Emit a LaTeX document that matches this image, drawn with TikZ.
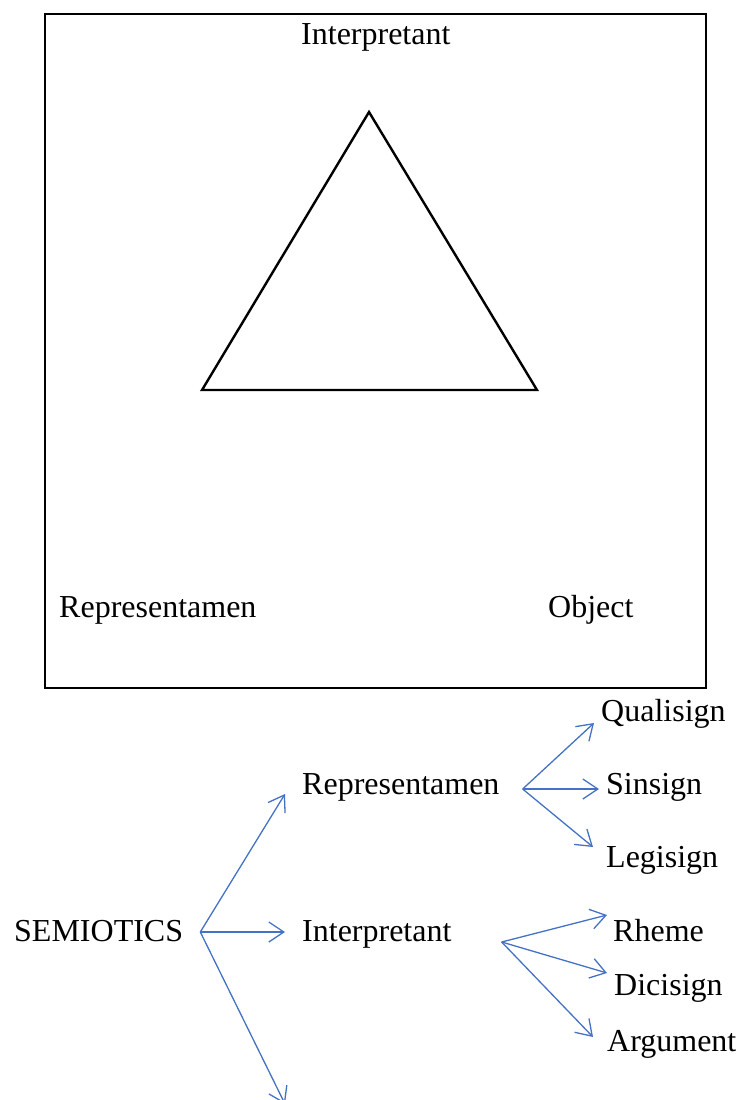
\documentclass[tikz,border=0pt]{standalone}
\usepackage{fontspec}
\setmainfont{Liberation Serif}
\usepackage{tikz}
\usetikzlibrary{arrows.meta, positioning, calc}
\definecolor{fanBlue}{HTML}{4472C4}

\tikzset{
    lbl/.style={font=\fontsize{32}{38}\selectfont, inner sep=0pt,
        text height=22pt, text depth=7pt, anchor=base west},
    fan/.style={draw=fanBlue, line width=1.3pt,
        -{Straight Barb[length=15pt, width=20pt]}}
}

\begin{document}
\begin{tikzpicture}[x={(1pt,0)}, y={(0,-1pt)}]
    \useasboundingbox (0,0) rectangle (736,1100);
    \clip (0,0) rectangle (736,1100);

    % Triad box
    \draw[line width=1.6pt] (45,14) rectangle (706,688);
    \draw[line width=2.4pt, line join=miter] (369,112) -- (537,390) -- (202,390) -- cycle;

    \node[lbl] (intTop) at (301,44) {Interpretant};
    \node[lbl] (repBox) at (59,617) {Representamen};
    \node[lbl] (objBox) at (548,617) {Object};

    % Classification
    \node[lbl] (semio) at (14,941) {SEMIOTICS};
    \node[lbl] (rep) at (302,794) {Representamen};
    \node[lbl] (int) at (302,941) {Interpretant};

    \node[lbl] (quali) at (601,721) {Qualisign};
    \node[lbl] (sinsi) at (606,794) {Sinsign};
    \node[lbl] (legi) at (606,867) {Legisign};

    \node[lbl] (rheme) at (613,941) {Rheme};
    \node[lbl] (dici) at (614,995) {Dicisign};
    \node[lbl] (argu) at (607,1051) {Argument};

    \coordinate (semioFan) at ($(semio.base east)+(17,-9)$);
    \coordinate (repFan) at ($(rep.base east)+(23,-5)$);
    \coordinate (intFan) at ($(int.base east)+(50,1)$);
    \coordinate (objEnd) at (285,1104);

    % Arrows
    \draw[fan] (semioFan) -- ($(rep.base west)+(-17,0)$);
    \draw[fan] (semioFan) -- ($(int.base west)+(-17,-9)$);
    \draw[fan] (semioFan) -- (objEnd);

    \draw[fan] (repFan) -- ($(quali.base west)+(-7,2)$);
    \draw[fan] (repFan) -- ($(sinsi.base west)+(-7,-5)$);
    \draw[fan] (repFan) -- ($(legi.base west)+(-13,-20)$);

    \draw[fan] (intFan) -- ($(rheme.base west)+(-6,-26)$);
    \draw[fan] (intFan) -- ($(dici.base west)+(-7,-22)$);
    \draw[fan] (intFan) -- ($(argu.base west)+(-14,-14)$);
\end{tikzpicture}
\end{document}
